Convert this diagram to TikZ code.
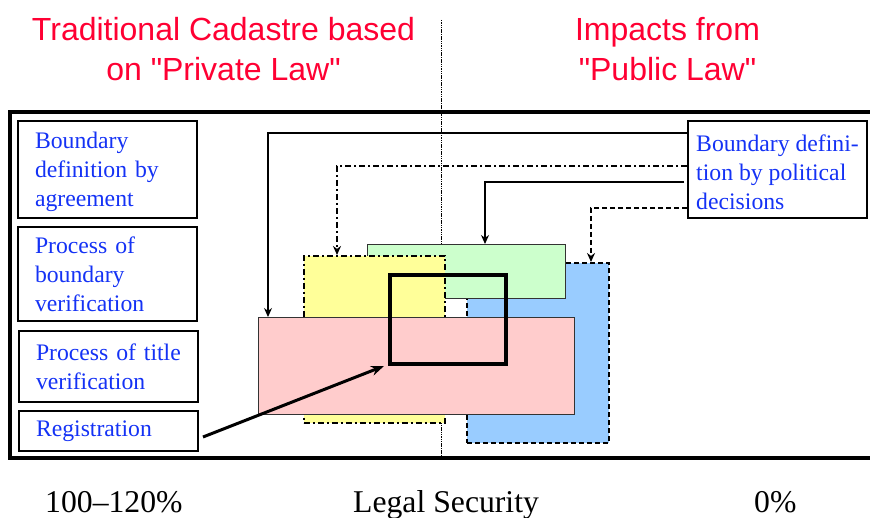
\documentclass[tikz,border=0pt]{standalone}
\usepackage{fontspec}
\setmainfont{Liberation Serif}
\newfontfamily\arialfont{Liberation Sans}
\usetikzlibrary{arrows.meta}
\definecolor{titlered}{RGB}{255,0,51}
\definecolor{boxblue}{RGB}{20,50,245}
\definecolor{pinkfill}{HTML}{FFCCCC}
\definecolor{yellowfill}{HTML}{FFFF99}
\definecolor{greenfill}{HTML}{CCFFCC}
\definecolor{bluefill}{HTML}{99CCFF}
\begin{document}
\begin{tikzpicture}[x=1pt,y=-1pt,
  lbox/.style={draw, line width=2pt, minimum width=179pt, text width=145pt,
    inner xsep=17pt, inner ysep=0pt, align=left, text=boxblue,
    font=\fontsize{23.7}{29}\selectfont},
  rbox/.style={draw, line width=2pt, minimum width=179pt,
    inner xsep=7pt, inner ysep=0pt, align=left, text=boxblue,
    font=\fontsize{23.7}{29}\selectfont},
  area/.style={minimum width=#1, inner sep=0pt, anchor=north west},
  dashdot/.style={dash pattern=on 6pt off 3pt on 2pt off 3pt},
  dashline/.style={dash pattern=on 5pt off 3pt},
  tip/.style={-{Stealth[length=9pt,width=8pt]}},
  titletext/.style={font=\arialfont\fontsize{32}{40}\selectfont, text=titlered,
    align=center, inner sep=0pt, anchor=north},
  bottomtext/.style={font=\fontsize{31.7}{36}\selectfont, inner sep=0pt, anchor=base west}
]
\useasboundingbox (0,0) rectangle (870,518);

% dividing dotted line
\draw[dash pattern=on 1.5pt off 0.8pt, line width=1.4pt] (441.5,20) -- (441.5,460);

% titles
\node[titletext] (t1) at (223.5,16.7) {Traditional Cadastre based\\on "Private Law"};
\node[titletext] (t2) at (667.5,16.7) {Impacts from\\"Public Law"};

% outer frame
\draw[line width=4pt] (10,112) rectangle (885,458);

% left boxes
\node[lbox, minimum height=97pt] (b1) at (107.5,169.5) {\rule{0pt}{22pt}Boundary\\definition by\\agreement};
\node[lbox, minimum height=94pt] (b2) at (107.5,274) {Process of\\boundary\\verification};
\node[lbox, minimum height=71pt] (b3) at (108.5,366.5) {Process of title\\verification};
\node[lbox, minimum height=40pt] (b4) at (108.5,431) {Registration};

% right box
\node[rbox, minimum height=97pt] (rb) at (777.5,169.5)
  {\rule{0pt}{22pt}Boundary defini-\\tion by political\\decisions};

% coloured areas
\node[area=142pt, minimum height=180pt, fill=bluefill, draw, line width=1.7pt, dashline] (blue) at (466,262) {};
\node[area=198pt, minimum height=54pt, fill=greenfill, draw=black!80, line width=1.2pt] (green) at (367,244) {};
\node[area=141pt, minimum height=167pt, fill=yellowfill, draw, line width=1.7pt, dashdot] (yellow) at (303,255) {};
\node[area=316pt, minimum height=97pt, fill=pinkfill, draw=black!80, line width=1.2pt] (pink) at (258,317) {};
\node[area=116pt, minimum height=89pt, draw, line width=4pt] (square) at (388,273) {};

% connectors from the right box
\draw[tip, line width=1.2pt] ([yshift=-13pt]rb.north west) -| ([xshift=10pt]pink.north west);
\draw[tip, line width=1.7pt, dashdot] ([yshift=-46pt]rb.north west) -| ([xshift=34pt]yellow.north west);
\draw[tip, line width=1.2pt] ([xshift=-3pt,yshift=-62pt]rb.north west) -| ([xshift=118pt]green.north west);
\draw[tip, line width=1.7pt, dashline] ([yshift=-88pt]rb.north west) -| ([xshift=125pt]blue.north west);

% registration arrow
\draw[line width=3pt, -{Stealth[length=13pt,width=10pt]}] ([xshift=4pt,yshift=-6pt]b4.east) -- ([xshift=-4pt]square.south west);

% bottom labels
\node[bottomtext] (lo) at (45,512) {100–120\%};
\node[bottomtext] (ls) at (353,512) {Legal Security};
\node[bottomtext] (hi) at (754,512) {0\%};
\end{tikzpicture}
\end{document}
